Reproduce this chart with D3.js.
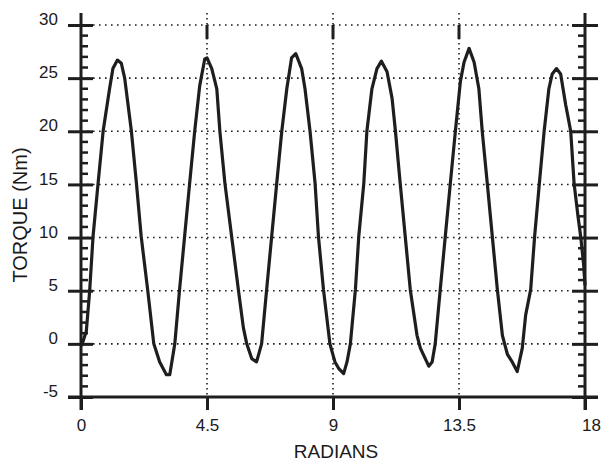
<!DOCTYPE html>
<html>
<head>
<meta charset="utf-8">
<script src="https://cdn.jsdelivr.net/npm/d3@7"></script>
<style>
  body { margin: 0; background: #fff; }
  text { font-family: "Liberation Sans", Arial, sans-serif; fill: #1a1a1a; }
</style>
</head>
<body>
<svg id="chart"></svg>
<script>
var W = 603, H = 463;

// tick values
var xTicks = [0, 4.5, 9, 13.5, 18];
var xTickLabels = ["0", "4.5", "9", "13.5", "18"];
var yTicks = [-5, 0, 5, 10, 15, 20, 25, 30];
var yTickLabels = ["-5", "0", "5", "10", "15", "20", "25", "30"];
var xGrid = [4.5, 9, 13.5];
var yGrid = [0, 5, 10, 15, 20, 25, 30];

// torque curve
var radians = [0.02, 0.19, 0.31, 0.43, 0.61, 0.79, 1.02, 1.14, 1.30, 1.44, 1.56, 1.80, 1.98,
    2.15, 2.38, 2.60, 2.81, 3.05, 3.17, 3.35, 3.52, 3.70, 3.88, 4.06, 4.24, 4.42, 4.50,
    4.67, 4.85, 4.96, 5.14, 5.38, 5.62, 5.80, 5.92, 6.10, 6.27, 6.45, 6.63, 6.81, 6.99, 7.17,
    7.35, 7.52, 7.67, 7.88, 8.00, 8.18, 8.36, 8.48, 8.66, 8.89, 9.07, 9.20, 9.38, 9.50, 9.62,
    9.80, 9.92, 10.10, 10.21, 10.39, 10.57, 10.73, 10.93, 11.11, 11.23, 11.40, 11.58, 11.76,
    12.00, 12.12, 12.42, 12.54, 12.65, 12.83, 13.01, 13.19, 13.37, 13.55, 13.68, 13.86, 14.04,
    14.21, 14.33, 14.51, 14.69, 14.87, 15.05, 15.23, 15.40, 15.58, 15.76, 15.88, 16.06, 16.20,
    16.37, 16.54, 16.71, 16.83, 16.98, 17.13, 17.31, 17.49, 17.61, 17.75, 17.85, 17.95, 18.0];
var torque = [-0.2, 1.2, 5.0, 10.1, 15.1, 20.0, 24.0, 25.9, 26.7, 26.4, 25.0, 20.0, 15.1,
    10.1, 5.1, 0.0, -1.7, -2.9, -2.9, 0.0, 5.1, 10.1, 15.1, 20.0, 24.3, 26.8, 26.9,
    25.9, 24.0, 20.0, 15.1, 10.1, 5.1, 1.5, 0.0, -1.4, -1.7, 0.0, 5.1, 10.1, 15.1, 20.0,
    24.0, 26.9, 27.3, 25.9, 24.0, 20.0, 15.1, 10.1, 5.1, 0.0, -1.7, -2.3, -2.8, -1.7, 0.0,
    5.1, 10.1, 15.1, 20.0, 24.0, 25.9, 26.6, 25.6, 23.1, 20.0, 15.1, 10.1, 5.1,
    0.8, -0.4, -2.1, -1.7, 0.0, 5.1, 10.1, 15.1, 20.0, 24.7, 26.5, 27.8, 26.5,
    24.0, 20.0, 15.1, 10.1, 5.1, 0.8, -1.0, -1.7, -2.6, -0.4, 2.7, 5.1, 10.1,
    15.1, 20.0, 24.0, 25.4, 25.9, 25.4, 22.5, 20.0, 15.1, 12.0, 10.0, 7.5, 5.5];

var svg = d3.select("#chart").attr("width", W).attr("height", H);

var x = d3.scaleLinear().domain([0, 18]).range([81, 585]);
var y = d3.scaleLinear().domain([-5, 30]).range([397, 25]);

var INK = "#1e1e1e";
var TOP = 13, BOTTOM = 410;

// dotted grid
svg.append("g").selectAll("line").data(yGrid).join("line")
    .attr("x1", x(0)).attr("x2", x(18))
    .attr("y1", function(d) { return y(d); }).attr("y2", function(d) { return y(d); })
    .attr("stroke", INK).attr("stroke-width", 1.6).attr("stroke-dasharray", "1.6,4.4");

svg.append("g").selectAll("line").data(xGrid).join("line")
    .attr("x1", function(d) { return x(d); }).attr("x2", function(d) { return x(d); })
    .attr("y1", TOP).attr("y2", y(-5))
    .attr("stroke", INK).attr("stroke-width", 1.6).attr("stroke-dasharray", "1.6,3.4");

// short thick ticks hanging from the top grid line
svg.append("g").selectAll("line").data(xGrid).join("line")
    .attr("x1", function(d) { return x(d); }).attr("x2", function(d) { return x(d); })
    .attr("y1", y(30)).attr("y2", y(30) + 14)
    .attr("stroke", INK).attr("stroke-width", 3);

// minor ticks on both vertical axes
var minor = d3.range(-5, 31, 1).filter(function(v) { return v % 5 !== 0; });
svg.append("g").selectAll("line").data(minor).join("line")
    .attr("x1", x(0)).attr("x2", x(0) + 7)
    .attr("y1", function(d) { return y(d); }).attr("y2", function(d) { return y(d); })
    .attr("stroke", INK).attr("stroke-width", 2.5);
svg.append("g").selectAll("line").data(minor).join("line")
    .attr("x1", x(18) - 7).attr("x2", x(18))
    .attr("y1", function(d) { return y(d); }).attr("y2", function(d) { return y(d); })
    .attr("stroke", INK).attr("stroke-width", 2.5);

// left axis with major ticks crossing it
var yAxis = svg.append("g")
    .attr("transform", "translate(" + x(0) + ",0)")
    .call(d3.axisLeft(y).tickValues(yTicks).tickSize(13).tickPadding(10)
        .tickFormat(function(d, i) { return yTickLabels[i]; }));
yAxis.select(".domain").remove();
yAxis.selectAll(".tick line").attr("x2", -13).attr("x1", 12)
    .attr("stroke", INK).attr("stroke-width", 3);
yAxis.selectAll(".tick text").attr("x", -23).attr("dy", "-0.02em")
    .style("font-size", "17px").attr("fill", INK);

// right axis
var yAxisR = svg.append("g")
    .attr("transform", "translate(" + x(18) + ",0)")
    .call(d3.axisRight(y).tickValues(yTicks).tickSize(13).tickFormat(""));
yAxisR.select(".domain").remove();
yAxisR.selectAll(".tick line").attr("x1", -13).attr("x2", 13)
    .attr("stroke", INK).attr("stroke-width", 3);

// vertical axis lines
[0, 18].forEach(function(v) {
    svg.append("line")
        .attr("x1", x(v)).attr("x2", x(v)).attr("y1", TOP).attr("y2", BOTTOM)
        .attr("stroke", INK).attr("stroke-width", 3);
});

// bottom axis
var xAxis = svg.append("g")
    .attr("transform", "translate(0," + y(-5) + ")")
    .call(d3.axisBottom(x).tickValues(xTicks).tickSize(13).tickPadding(9)
        .tickFormat(function(d, i) { return xTickLabels[i]; }));
xAxis.select(".domain").remove();
xAxis.selectAll(".tick line").attr("stroke", INK).attr("stroke-width", 3);
xAxis.selectAll(".tick text").style("font-size", "17px").attr("fill", INK);
xAxis.selectAll(".tick text").filter(function(d) { return d === 18; }).attr("dx", 6);

svg.append("line")
    .attr("x1", 68).attr("x2", 598).attr("y1", y(-5)).attr("y2", y(-5))
    .attr("stroke", INK).attr("stroke-width", 3);

// torque curve
var pts = d3.zip(radians, torque);
svg.append("path")
    .datum(pts)
    .attr("fill", "none")
    .attr("stroke", INK)
    .attr("stroke-width", 3.2)
    .attr("stroke-linejoin", "round")
    .attr("d", d3.line()
        .x(function(d) { return x(d[0]); })
        .y(function(d) { return y(d[1]); }));

// axis titles
svg.append("text")
    .attr("x", 336).attr("y", 458)
    .attr("text-anchor", "middle")
    .style("font-size", "19px")
    .text("RADIANS");

svg.append("text")
    .attr("transform", "translate(27,215) rotate(-90)")
    .attr("text-anchor", "middle")
    .style("font-size", "20px")
    .text("TORQUE (Nm)");
</script>
</body>
</html>
